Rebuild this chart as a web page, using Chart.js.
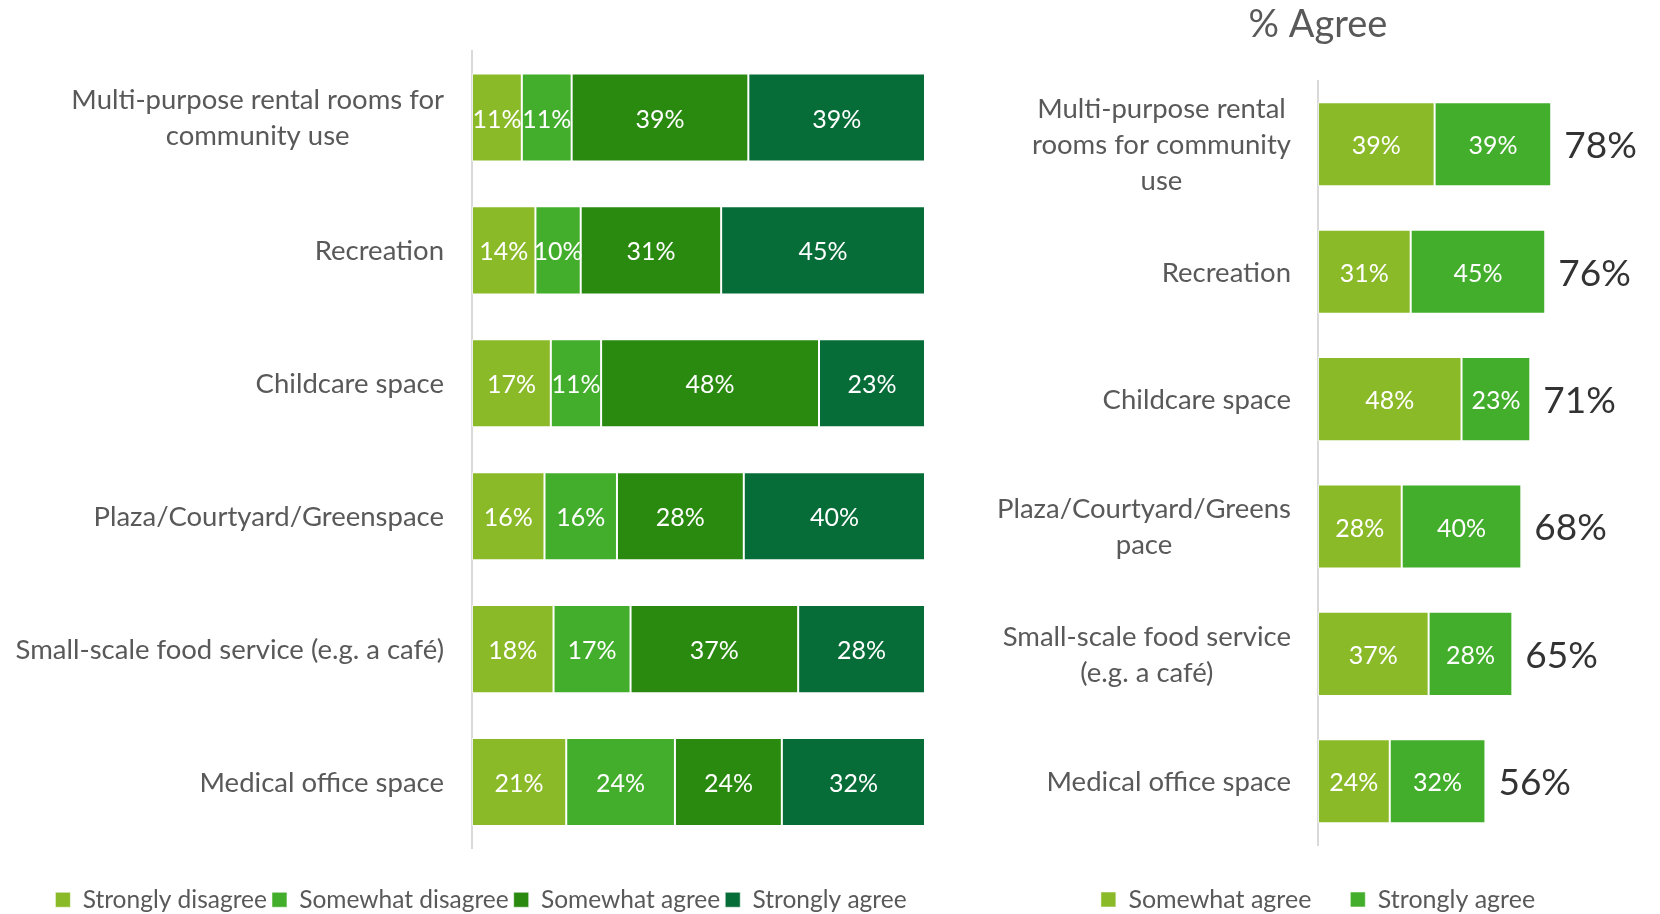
<!DOCTYPE html>
<html>
<head>
<meta charset="utf-8">
<script src="https://cdn.jsdelivr.net/npm/chart.js@4.4.1/dist/chart.umd.min.js"></script>
<style>
  html, body { margin: 0; padding: 0; background: #fff; overflow: hidden; width: 1660px; height: 914px; }
  #left { position: absolute; left: 0; top: 0; }
  #right { position: absolute; left: 962px; top: 0; }
</style>
</head>
<body>
<canvas id="left" width="962" height="922"></canvas>
<canvas id="right" width="698" height="922"></canvas>
<script>
// categories (lines as they wrap in the picture)
const categories = [
  ['Multi-purpose rental rooms for', 'community use'],
  ['Recreation'],
  ['Childcare space'],
  ['Plaza/Courtyard/Greenspace'],
  ['Small-scale food service (e.g. a café)'],
  ['Medical office space']
];
const agreeCategories = [
  ['Multi-purpose rental', 'rooms for community', 'use'],
  ['Recreation'],
  ['Childcare space'],
  ['Plaza/Courtyard/Greens', 'pace'],
  ['Small-scale food service', '(e.g. a café)'],
  ['Medical office space']
];

// % values (bar widths, labels are the rounded values)
const stronglyDisagree = [11, 14, 17.4, 16, 18, 20.8];
const somewhatDisagree = [11, 10, 11.1, 16, 17, 24];
const somewhatAgree = [39, 31, 48.1, 28, 37, 23.6];
const stronglyAgree = [39, 45, 23.4, 40, 28, 31.6];
const agreeSomewhat = [39, 31, 48, 28, 37, 24];
const agreeStrongly = [39, 45, 23, 40, 28, 32];
const totalAgree = [78, 76, 71, 68, 65, 56];

const FONT = 'Lato, "Open Sans", sans-serif';
const GRAY = '#595959';

// draws the category names, lines centred in a right-aligned block
function catLabels(lines, size, gap, lineH) {
  return {
    id: 'catLabels',
    afterDraw(chart) {
      const ctx = chart.ctx;
      const y = chart.scales.y;
      ctx.save();
      ctx.font = size + 'px ' + FONT;
      ctx.fillStyle = GRAY;
      ctx.textAlign = 'center';
      ctx.textBaseline = 'middle';
      lines.forEach((ls, i) => {
        const w = Math.max(...ls.map(t => ctx.measureText(t).width));
        const cx = chart.chartArea.left - gap - w / 2;
        const cy = y.getPixelForTick(i) + 1;
        ls.forEach((t, j) => ctx.fillText(t, cx, cy + (j - (ls.length - 1) / 2) * lineH));
      });
      ctx.restore();
    }
  };
}

// white % inside each segment
const segLabels = {
  id: 'segLabels',
  afterDatasetsDraw(chart) {
    const ctx = chart.ctx;
    ctx.save();
    ctx.font = '25px ' + FONT;
    ctx.fillStyle = '#fff';
    ctx.textAlign = 'center';
    ctx.textBaseline = 'middle';
    chart.data.datasets.forEach((ds, di) => {
      chart.getDatasetMeta(di).data.forEach((bar, i) => {
        const p = bar.getProps(['x', 'y', 'base'], true);
        ctx.fillText(Math.round(ds.data[i]) + '%', (p.x + p.base) / 2, p.y + 2);
      });
    });
    ctx.restore();
  }
};

// totals to the right of the agree bars
const totalLabels = {
  id: 'totalLabels',
  afterDatasetsDraw(chart) {
    const ctx = chart.ctx;
    const last = chart.getDatasetMeta(chart.data.datasets.length - 1);
    ctx.save();
    ctx.font = '37px ' + FONT;
    ctx.fillStyle = '#333';
    ctx.textAlign = 'left';
    ctx.textBaseline = 'middle';
    last.data.forEach((bar, i) => {
      ctx.fillText(totalAgree[i] + '%', bar.x + 13, bar.y + 2);
    });
    ctx.restore();
  }
};

function ds(label, data, color) {
  return {
    label, data,
    backgroundColor: color,
    borderColor: 'rgba(255,255,255,0.55)',
    borderWidth: 1,
    borderSkipped: false,
    barPercentage: 0.663,
    categoryPercentage: 1
  };
}

function scales(yWidth, xHeight) {
  return {
    x: {
      stacked: true, min: 0, max: 100,
      ticks: { display: false },
      grid: { display: false },
      border: { display: false },
      afterFit: s => { s.height = xHeight; }
    },
    y: {
      stacked: true,
      ticks: { display: false },
      grid: { display: false },
      border: { display: true, color: '#d9d9d9', width: 2 },
      afterFit: s => { s.width = yWidth; }
    }
  };
}

function legend(pad, size) {
  return {
    position: 'bottom',
    labels: {
      boxWidth: 15, boxHeight: 15, padding: pad,
      color: GRAY,
      font: { size: size, family: FONT }
    }
  };
}

new Chart(document.getElementById('left'), {
  type: 'bar',
  data: {
    labels: categories.map(l => l.join(' ')),
    datasets: [
      ds('Strongly disagree', stronglyDisagree, '#8bba28'),
      ds('Somewhat disagree', somewhatDisagree, '#43ae2c'),
      ds('Somewhat agree', somewhatAgree, '#2a8a10'),
      ds('Strongly agree', stronglyAgree, '#066c38')
    ]
  },
  options: {
    indexAxis: 'y',
    responsive: false,
    animation: false,
    layout: { padding: { left: 37, top: 51, right: 37, bottom: 0 } },
    scales: scales(435, 34),
    plugins: { legend: legend(5, 24.5), tooltip: { enabled: false } }
  },
  plugins: [segLabels, catLabels(categories, 27.5, 28, 36)]
});

new Chart(document.getElementById('right'), {
  type: 'bar',
  data: {
    labels: agreeCategories.map(l => l.join(' ')),
    datasets: [
      ds('Somewhat agree', agreeSomewhat, '#8bba28'),
      ds('Strongly agree', agreeStrongly, '#43ae2c')
    ].map(d => Object.assign(d, { barPercentage: 0.66 }))
  },
  options: {
    indexAxis: 'y',
    responsive: false,
    animation: false,
    layout: { padding: { left: 57, top: 0, right: 43, bottom: 0 } },
    scales: scales(299, 3),
    plugins: {
      title: {
        display: true, text: '% Agree', color: GRAY,
        font: { size: 38, family: FONT, weight: 'normal' },
        padding: { top: 2, bottom: 33 }
      },
      legend: legend(39, 25),
      tooltip: { enabled: false }
    }
  },
  plugins: [segLabels, totalLabels, catLabels(agreeCategories, 27.5, 27, 36)]
});
</script>
</body>
</html>
